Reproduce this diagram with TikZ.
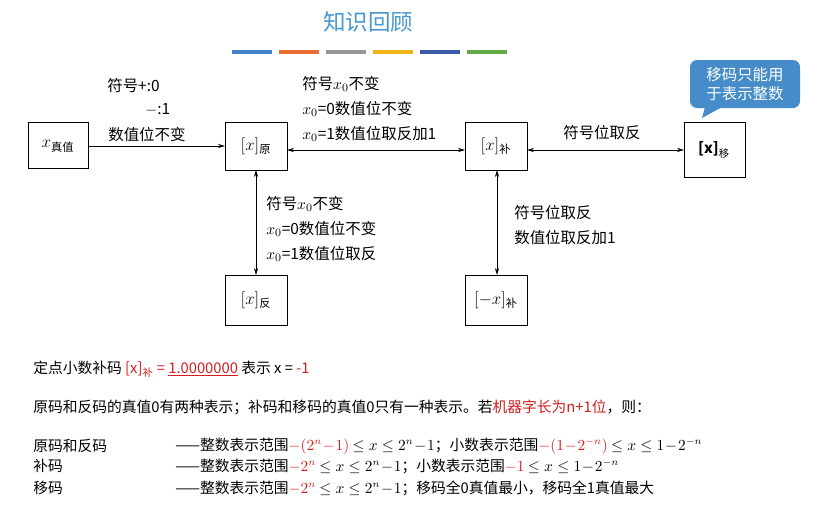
\documentclass[tikz,border=0pt]{standalone}
\usepackage{fontspec}
\usepackage{amsmath}
\setmainfont{Noto Sans CJK SC}
\usetikzlibrary{arrows.meta}
\definecolor{ttl}{RGB}{70,150,210}
\definecolor{callb}{RGB}{70,140,200}
\definecolor{rd}{RGB}{210,30,30}
\definecolor{b1}{RGB}{70,130,200}
\definecolor{b2}{RGB}{230,110,50}
\definecolor{b3}{RGB}{150,150,150}
\definecolor{b4}{RGB}{240,180,20}
\definecolor{b5}{RGB}{60,90,170}
\definecolor{b6}{RGB}{100,170,70}
\begin{document}
\begin{tikzpicture}[x=0.025cm,y=-0.025cm,
  lab/.style={anchor=west,inner sep=0pt,font=\fontsize{11}{12}\selectfont},
  txt/.style={anchor=west,inner sep=0pt,font=\fontsize{10.5}{12}\selectfont},
  bt/.style={font=\fontsize{12}{14}\selectfont},
  arr/.style={-{Stealth[length=5pt,width=3pt]},line width=0.6pt},
  darr/.style={{Stealth[length=5pt,width=3pt]}-{Stealth[length=5pt,width=3pt]},line width=0.6pt}]
\useasboundingbox (0,0) rectangle (820,509);
\node[font=\fontsize{16}{18}\selectfont,text=ttl] (title) at (368,22) {知识回顾};
\foreach \c [count=\i] in {b1,b2,b3,b4,b5,b6}{
  \fill[\c] ({232+(\i-1)*47},50) rectangle ++(40,4);}
% callout
\fill[callb,rounded corners=5pt] (690,60) rectangle (800,108);
\fill[callb] (705,107) -- (702,118) -- (722,107) -- cycle;
\node[text=white,align=center,font=\fontsize{11}{13}\selectfont] (call) at (745,84) {移码只能用\\于表示整数};
% boxes
\draw[line width=0.7pt] (28,122) rectangle (88,168);
\node[bt] (tv) at (58,146) {$x_{\text{真值}}$};
\draw[line width=0.7pt] (225,122) rectangle (287,170);
\node[bt] (yuan) at (256,146) {$[x]_{\text{原}}$};
\draw[line width=0.7pt] (465,122) rectangle (527,170);
\node[bt] (bu) at (496,146) {$[x]_{\text{补}}$};
\draw[line width=0.7pt] (684,122) rectangle (745,177);
\node[font=\fontsize{10.5}{12}\selectfont] (yi) at (714,150) {$\textbf{[x]}_{\text{移}}$};
\draw[line width=0.7pt] (225,275) rectangle (287,325);
\node[bt] (fan) at (256,300) {$[x]_{\text{反}}$};
\draw[line width=0.7pt] (465,275) rectangle (527,325);
\node[bt] (nbu) at (496,300) {$[-x]_{\text{补}}$};
\coordinate (p1) at (88,146); \coordinate (p2) at (225,146);
\coordinate (p3) at (287,150); \coordinate (p4) at (465,150);
\coordinate (p5) at (527,150); \coordinate (p6) at (684,150);
\coordinate (p7) at (256,170); \coordinate (p8) at (256,275);
\coordinate (p9) at (497,170); \coordinate (p10) at (497,275);
\draw[arr] (p1) -- (p2);
\draw[darr] (p3) -- (p4);
\draw[darr] (p5) -- (p6);
\draw[darr] (p7) -- (p8);
\draw[darr] (p9) -- (p10);
% labels
\node[lab] at (107,86) {符号+:0};
\node[lab] at (145,110) {$-$:1};
\node[lab] at (108,135) {数值位不变};
\node[lab] at (302,84) {符号$x_0$不变};
\node[lab] at (302,109) {$x_0$=0数值位不变};
\node[lab] at (302,134) {$x_0$=1数值位取反加1};
\node[lab] at (563,133) {符号位取反};
\node[lab] at (266,204) {符号$x_0$不变};
\node[lab] at (266,229) {$x_0$=0数值位不变};
\node[lab] at (266,254) {$x_0$=1数值位取反};
\node[lab] at (514,213) {符号位取反};
\node[lab] at (514,238) {数值位取反加1};
% bottom
\node[txt] at (33,369) {定点小数补码 \textcolor{rd}{[x]$_{\text{补}}$ = \underline{1.0000000}} 表示 x = \textcolor{rd}{-1}};
\node[txt] at (33,407) {原码和反码的真值0有两种表示；补码和移码的真值0只有一种表示。若\textcolor{rd}{机器字长为n+1位}，则：};
\node[txt] at (33,446) {原码和反码};
\node[txt] at (33,466) {补码};
\node[txt] at (33,488) {移码};
\node[txt] at (175,446) {——整数表示范围\textcolor{rd}{$-(2^n\!-\!1)$} $\le x\le 2^n\!-\!1$；小数表示范围\textcolor{rd}{$-(1\!-\!2^{-n})$} $\le x\le 1\!-\!2^{-n}$};
\node[txt] at (175,466) {——整数表示范围\textcolor{rd}{$-2^n$} $\le x\le 2^n\!-\!1$；小数表示范围\textcolor{rd}{$-1$} $\le x\le 1\!-\!2^{-n}$};
\node[txt] at (175,488) {——整数表示范围\textcolor{rd}{$-2^n$} $\le x\le 2^n\!-\!1$；移码全0真值最小，移码全1真值最大};
\end{tikzpicture}
\end{document}
